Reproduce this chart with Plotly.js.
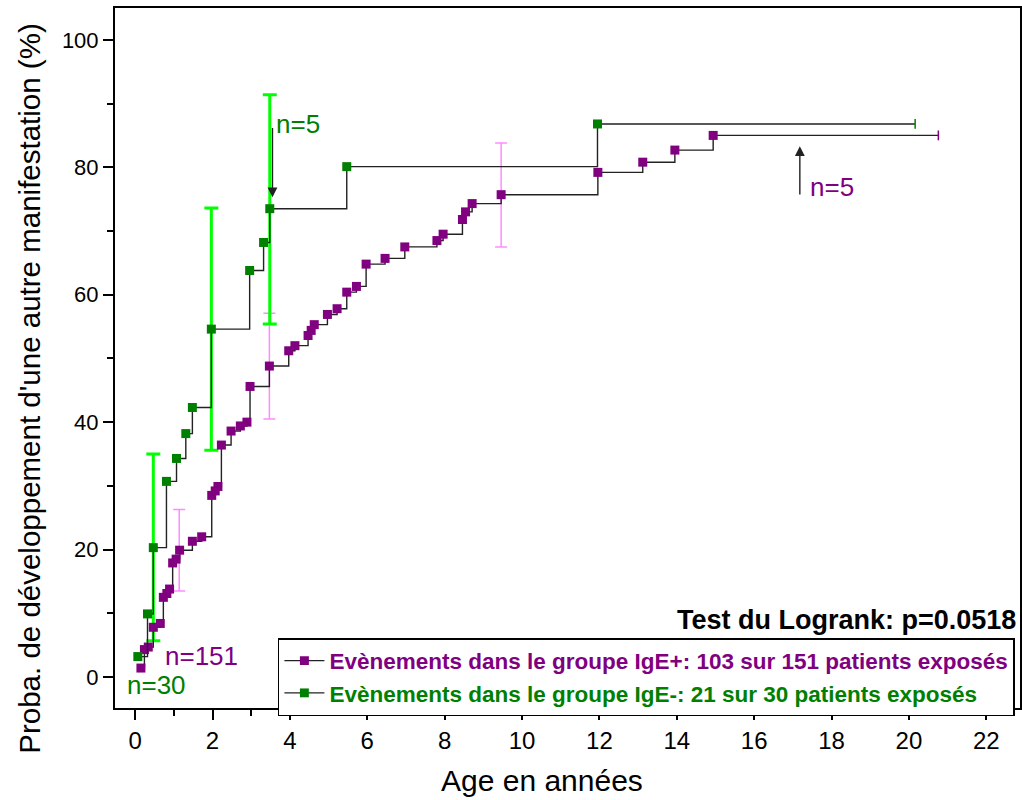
<!DOCTYPE html>
<html>
<head>
<meta charset="utf-8">
<script src="https://cdn.plot.ly/plotly-3.0.1.min.js"></script>
<style>html,body{margin:0;padding:0;background:#fff;}#chart{width:1022px;height:800px;}</style>
</head>
<body>
<div id="chart"></div>
<script>
// IgE+ group (purple)
const purpleX = [0.15, 0.24, 0.34, 0.47, 0.65, 0.73, 0.82, 0.89, 0.97, 1.06, 1.15, 1.48, 1.72, 1.98, 2.07, 2.14, 2.23, 2.48, 2.72, 2.89, 2.97, 3.47, 3.97, 4.13, 4.47, 4.55, 4.63, 4.97, 5.22, 5.47, 5.72, 5.97, 6.46, 6.97, 7.80, 7.96, 8.46, 8.54, 8.71, 9.46, 11.96, 13.12, 13.95, 14.94];
const purpleY = [1.4, 4.3, 4.7, 7.8, 8.4, 12.5, 13.1, 13.8, 17.9, 18.5, 19.9, 21.3, 22.0, 28.5, 29.2, 29.9, 36.4, 38.6, 39.4, 40.0, 45.6, 48.8, 51.2, 52.0, 53.6, 54.4, 55.3, 56.9, 57.8, 60.4, 61.3, 64.8, 65.7, 67.5, 68.5, 69.5, 71.8, 73.0, 74.3, 75.7, 79.2, 80.8, 82.7, 85.0];
const purpleCensorX = 20.76;
// IgE- group (green)
const greenX = [0.07, 0.32, 0.47, 0.81, 1.07, 1.31, 1.48, 1.97, 2.96, 3.32, 3.48, 5.47, 11.95];
const greenY = [3.2, 9.9, 20.3, 30.7, 34.3, 38.2, 42.3, 54.6, 63.8, 68.2, 73.5, 80.1, 86.8];
const greenCensorX = 20.16;
// confidence intervals
const purpleErrX = [1.14, 3.47, 9.46];
const purpleErrY = [19.9, 48.8, 75.7];
const purpleErrPlus = [6.4, 8.3, 8.1];
const purpleErrMinus = [6.4, 8.3, 8.2];
const greenErrX = [0.47, 1.97, 3.48];
const greenErrY = [20.3, 54.6, 73.5];
const greenErrPlus = [14.7, 19.0, 17.9];
const greenErrMinus = [14.6, 19.0, 18.1];
// labels
const legendPurple = "Evènements dans le groupe IgE+: 103 sur 151 patients exposés";
const legendGreen = "Evènements dans le groupe IgE-: 21 sur 30 patients exposés";
const xTitle = "Age en années";
const yTitle = "Proba. de développement d'une autre manifestation (%)";
const testText = "Test du Logrank: p=0.0518";

const PURPLE = "#800080", GREEN = "#008000";
const NARROW = "'Liberation Sans Narrow', 'Arial Narrow', 'Liberation Sans', Arial, sans-serif";
const ARIAL = "'Liberation Sans', Arial, sans-serif";

function curve(xs, ys, cx, color, name) {
  const x = xs.concat([cx]);
  const y = ys.concat([ys[ys.length - 1]]);
  const sym = xs.map(() => 'square').concat(['line-ns']);
  const sz = xs.map(() => 9).concat([7]);
  const lw = xs.map(() => 0).concat([1.5]);
  return {
    x: x, y: y, name: name, type: 'scatter', mode: 'lines+markers',
    line: {shape: 'hv', color: '#222', width: 1.4},
    marker: {symbol: sym, size: sz, color: color, opacity: 1, line: {color: color, width: lw}},
    cliponaxis: false
  };
}
function errTrace(xs, ys, plus, minus, color, thick, w) {
  return {
    x: xs, y: ys, type: 'scatter', mode: 'markers', showlegend: false, hoverinfo: 'skip',
    marker: {size: 1, opacity: 0},
    error_y: {type: 'data', symmetric: false, array: plus, arrayminus: minus, color: color, thickness: thick, width: w}
  };
}

const traces = [
  errTrace(purpleErrX, purpleErrY, purpleErrPlus, purpleErrMinus, '#FF8CFF', 1.5, 6),
  errTrace(greenErrX, greenErrY, greenErrPlus, greenErrMinus, '#00FF00', 3, 7),
  curve(purpleX, purpleY, purpleCensorX, PURPLE, legendPurple),
  curve(greenX, greenY, greenCensorX, GREEN, legendGreen)
];

const layout = {
  width: 1022, height: 800,
  margin: {l: 115, r: 2, t: 8, b: 92},
  paper_bgcolor: '#fff', plot_bgcolor: '#fff',
  showlegend: true,
  legend: {
    x: 0.18, y: 0.1, xanchor: 'left', yanchor: 'top',
    bgcolor: '#fff', bordercolor: '#000', borderwidth: 1.5,
    font: {family: NARROW, size: 22.5, color: '#000', weight: 'bold'},
    tracegroupgap: 0, itemwidth: 40
  },
  xaxis: {
    range: [-0.52, 22.87], dtick: 2, tick0: 0, showgrid: false, zeroline: false,
    showline: true, mirror: true, linecolor: '#000', linewidth: 2,
    ticks: 'outside', ticklen: 10, tickwidth: 2, tickcolor: '#000',
    minor: {dtick: 1, ticks: 'outside', ticklen: 6, tickwidth: 2, tickcolor: '#000'},
    tickfont: {family: NARROW, size: 24, color: '#000'}
  },
  yaxis: {
    range: [-4.87, 105], dtick: 20, tick0: 0, showgrid: false, zeroline: false,
    showline: true, mirror: true, linecolor: '#000', linewidth: 2,
    ticks: 'outside', ticklen: 10, tickwidth: 2, tickcolor: '#000',
    minor: {dtick: 10, ticks: 'outside', ticklen: 6, tickwidth: 2, tickcolor: '#000'},
    tickfont: {family: ARIAL, size: 22, color: '#000'}
  },
  annotations: [
    {xref: 'paper', yref: 'paper', x: 0.472, y: -0.103, text: xTitle, showarrow: false,
     font: {family: NARROW, size: 30, color: '#000'}, xanchor: 'center', yanchor: 'middle'},
    {xref: 'paper', yref: 'paper', x: -0.094, y: 0.456, text: yTitle, showarrow: false, textangle: -90,
     font: {family: ARIAL, size: 29.5, color: '#000'}, xanchor: 'center', yanchor: 'middle'},
    {xref: 'paper', yref: 'y', x: 0.998, y: 8.9, text: '<b>' + testText + '</b>', showarrow: false,
     font: {family: NARROW, size: 27, color: '#000'}, xanchor: 'right', yanchor: 'middle'},
    {xref: 'x', yref: 'y', x: 0.72, y: 3.3, text: 'n=151', showarrow: false,
     font: {family: ARIAL, size: 26, color: PURPLE}, xanchor: 'left', yanchor: 'middle'},
    {xref: 'x', yref: 'y', x: -0.27, y: -1.3, text: 'n=30', showarrow: false,
     font: {family: ARIAL, size: 26, color: GREEN}, xanchor: 'left', yanchor: 'middle'},
    {xref: 'x', yref: 'y', x: 3.6, y: 86.8, text: 'n=5', showarrow: false,
     font: {family: ARIAL, size: 26, color: GREEN}, xanchor: 'left', yanchor: 'middle'},
    {xref: 'x', yref: 'y', x: 17.4, y: 76.9, text: 'n=5', showarrow: false,
     font: {family: ARIAL, size: 26, color: PURPLE}, xanchor: 'left', yanchor: 'middle'},
    {xref: 'x', yref: 'y', x: 3.55, y: 75.3, axref: 'x', ayref: 'y', ax: 3.55, ay: 86.4, text: '',
     showarrow: true, arrowhead: 2, arrowsize: 1.4, arrowwidth: 1.4, arrowcolor: '#222'},
    {xref: 'x', yref: 'y', x: 17.18, y: 83.3, axref: 'x', ayref: 'y', ax: 17.18, ay: 75.5, text: '',
     showarrow: true, arrowhead: 2, arrowsize: 1.4, arrowwidth: 1.4, arrowcolor: '#222'}
  ]
};

Plotly.newPlot('chart', traces, layout, {displayModeBar: false, staticPlot: true}).then(function(gd) {
  const texts = gd.querySelectorAll('.legend .legendtext');
  const cols = [PURPLE, GREEN];
  texts.forEach((t, i) => { t.style.fill = cols[i]; });
});
</script>
</body>
</html>
